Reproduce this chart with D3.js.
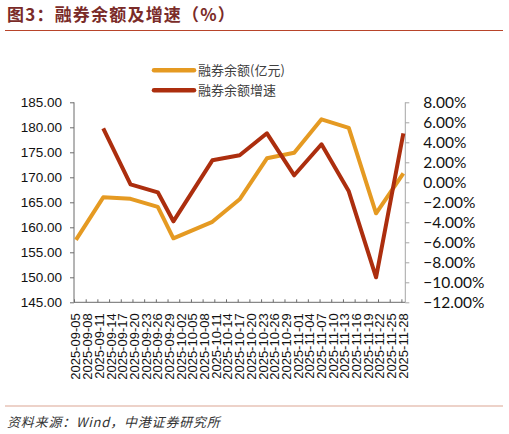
<!DOCTYPE html>
<html>
<head>
<meta charset="utf-8">
<script src="https://cdn.jsdelivr.net/npm/d3@7"></script>
<style>
  body { margin: 0; background: #fff; }
  svg { display: block; }
</style>
</head>
<body>
<div id="chart"></div>
<script>
// width and height
var w = 509;
var h = 434;

// data (weekly points)
var dates = ["2025-09-05", "2025-09-12", "2025-09-19", "2025-09-26", "2025-09-30",
             "2025-10-10", "2025-10-17", "2025-10-24", "2025-10-31", "2025-11-07",
             "2025-11-14", "2025-11-21", "2025-11-28"];
var balance = [157.5, 166.0, 165.7, 164.1, 157.8, 161.1, 165.6, 173.8, 174.9, 181.6, 179.9, 162.8, 170.8];
var growth = [null, 5.4, -0.2, -1.0, -3.9, 2.2, 2.7, 4.9, 0.7, 3.8, -0.9, -9.5, 4.9];

// x tick labels, every 3 days
var tickLabels = ["2025-09-05", "2025-09-08", "2025-09-11", "2025-09-14", "2025-09-17",
                  "2025-09-20", "2025-09-23", "2025-09-26", "2025-09-29", "2025-10-02",
                  "2025-10-05", "2025-10-08", "2025-10-11", "2025-10-14", "2025-10-17",
                  "2025-10-20", "2025-10-23", "2025-10-26", "2025-10-29", "2025-11-01",
                  "2025-11-04", "2025-11-07", "2025-11-10", "2025-11-13", "2025-11-16",
                  "2025-11-19", "2025-11-22", "2025-11-25", "2025-11-28"];
var leftTicks = [145, 150, 155, 160, 165, 170, 175, 180, 185];
var rightTicks = [-12, -10, -8, -6, -4, -2, 0, 2, 4, 6, 8];

var seriesNames = ["融券余额(亿元)", "融券余额增速"];
var colors = ["#E59A22", "#AC2E0E"];

var parse = d3.timeParse("%Y-%m-%d");
var dataset = dates.map(function (d, i) {
  return { date: parse(d), balance: balance[i], growth: growth[i] };
});

var plotLeft = 74, plotRight = 405.3, plotTop = 102.3, plotBottom = 302.3;

// date axis: each day is a cell, point at its middle
var xScale = d3.scaleTime()
  .domain([parse("2025-09-05"), d3.timeDay.offset(parse("2025-11-28"), 1)])
  .range([plotLeft, plotRight]);
function xMid(date) { return xScale(d3.timeHour.offset(date, 12)); }

var yLeft = d3.scaleLinear().domain([145, 185]).range([plotBottom, plotTop]);
var yRight = d3.scaleLinear().domain([-12, 8]).range([plotBottom, plotTop]);

var svg = d3.select("#chart").append("svg")
  .attr("width", w)
  .attr("height", h);

var cjk = "'Noto Sans CJK SC', 'Noto Sans', sans-serif";

// title
svg.append("text")
  .attr("x", 7).attr("y", 21)
  .attr("font-family", cjk)
  .attr("font-weight", "bold")
  .attr("font-size", "17px")
  .attr("letter-spacing", "1.2px")
  .attr("fill", "#7a2b28")
  .text("图3：融券余额及增速（%）");

svg.append("line")
  .attr("x1", 5).attr("x2", 503).attr("y1", 30.5).attr("y2", 30.5)
  .attr("stroke", "#b8442a").attr("stroke-width", 1.2);

// legend
seriesNames.forEach(function (name, i) {
  var ly = 70.3 + i * 20;
  svg.append("line")
    .attr("x1", 154).attr("x2", 194).attr("y1", ly).attr("y2", ly)
    .attr("stroke", colors[i]).attr("stroke-width", 4.5)
    .attr("stroke-linecap", "round");
  svg.append("text")
    .attr("x", 198).attr("y", ly + 4.5)
    .attr("font-family", cjk)
    .attr("font-size", "13px")
    .attr("fill", "#404040")
    .text(name);
});

// left axis
var leftAxis = d3.axisLeft(yLeft).tickValues(leftTicks)
  .tickSize(4).tickPadding(8)
  .tickFormat(d3.format(".2f"));
var gl = svg.append("g")
  .attr("transform", "translate(" + plotLeft + ",0)")
  .call(leftAxis);
gl.selectAll("path, line").attr("stroke", "#6b6b6b");
gl.select(".domain").attr("d", "M0," + plotTop + "V" + plotBottom);
gl.selectAll("text")
  .attr("font-family", "'Liberation Sans', Arial, sans-serif")
  .attr("font-size", "13.5px")
  .attr("fill", "#111");

// right axis
var rightAxis = d3.axisRight(yRight).tickValues(rightTicks)
  .tickSize(4).tickPadding(14)
  .tickFormat(function (d) { return d3.format(".2f")(d) + "%"; });
var gr = svg.append("g")
  .attr("transform", "translate(" + plotRight + ",0)")
  .call(rightAxis);
gr.selectAll("path, line").attr("stroke", "#a6a6a6");
gr.select(".domain").attr("d", "M0," + plotTop + "V" + plotBottom);
gr.selectAll("text")
  .attr("font-family", "Lato, 'Open Sans', sans-serif")
  .attr("font-size", "15.5px")
  .attr("fill", "#111");

// bottom axis: ticks inside, labels rotated and centred in each day cell
var xAxis = d3.axisBottom(xScale)
  .tickValues(tickLabels.map(parse))
  .tickSize(-3)
  .tickFormat("");
var gx = svg.append("g")
  .attr("transform", "translate(0," + plotBottom + ")")
  .call(xAxis);
gx.selectAll("path, line").attr("stroke", "#6b6b6b");
gx.select(".domain").attr("d", "M" + plotLeft + ",0H" + plotRight);

svg.append("g").selectAll("text")
  .data(tickLabels)
  .enter()
  .append("text")
  .attr("transform", function (d) {
    return "translate(" + (xMid(parse(d)) + 4.5) + "," + (plotBottom + 11) + ") rotate(-90)";
  })
  .attr("text-anchor", "end")
  .attr("font-family", "'Liberation Sans', Arial, sans-serif")
  .attr("font-size", "13px")
  .attr("fill", "#111")
  .text(function (d) { return d; });

// lines
var balanceLine = d3.line()
  .x(function (d) { return xMid(d.date); })
  .y(function (d) { return yLeft(d.balance); });

var growthLine = d3.line()
  .defined(function (d) { return d.growth !== null; })
  .x(function (d) { return xMid(d.date); })
  .y(function (d) { return yRight(d.growth); });

svg.append("path")
  .datum(dataset)
  .attr("d", balanceLine)
  .attr("fill", "none")
  .attr("stroke", colors[0])
  .attr("stroke-width", 4)
  .attr("stroke-linejoin", "round");

svg.append("path")
  .datum(dataset)
  .attr("d", growthLine)
  .attr("fill", "none")
  .attr("stroke", colors[1])
  .attr("stroke-width", 4)
  .attr("stroke-linejoin", "round");

// footer
svg.append("line")
  .attr("x1", 5).attr("x2", 503).attr("y1", 406).attr("y2", 406)
  .attr("stroke", "#dba593").attr("stroke-width", 1.2);

svg.append("text")
  .attr("x", 7).attr("y", 427)
  .attr("font-family", cjk)
  .attr("font-style", "italic")
  .attr("font-size", "13px")
  .attr("letter-spacing", "0.8px")
  .attr("fill", "#333")
  .text("资料来源：Wind，中港证券研究所");
</script>
</body>
</html>
